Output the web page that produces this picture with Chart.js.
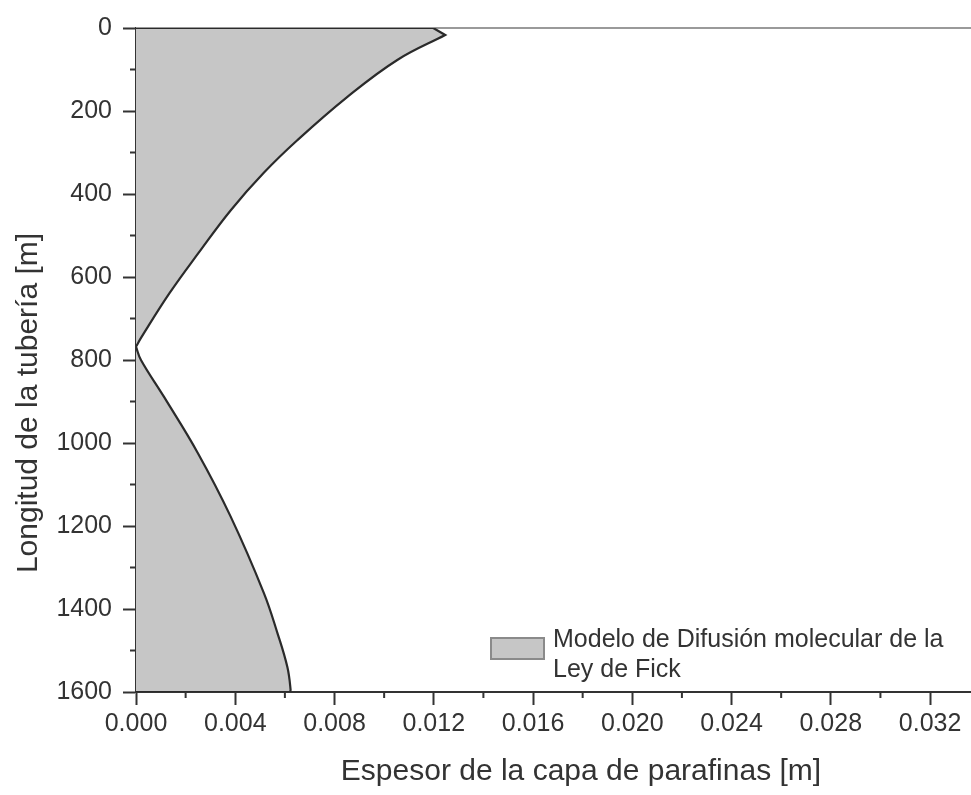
<!DOCTYPE html>
<html>
<head>
<meta charset="utf-8">
<script src="https://cdn.jsdelivr.net/npm/chart.js@4/dist/chart.umd.min.js"></script>
<style>
  body { margin: 0; background: #fff; overflow: hidden; }
  canvas { display: block; }
</style>
</head>
<body>
<canvas id="chart" width="971" height="795"></canvas>
<script>
// profile: thickness [m] vs pipe length [m]
// corner points are listed twice so the spline keeps them sharp
const depthUpper = [0, 0, 0, 17, 17, 77, 166, 270, 349, 439, 542, 639, 745, 768, 768];
const thickUpper = [0, 0.01198, 0.01198, 0.01246, 0.01246, 0.01053, 0.00852, 0.00651, 0.00515, 0.00382, 0.00252, 0.00135, 0.00022, 0, 0];
const depthLower = [800, 889, 1024, 1178, 1361, 1458, 1540, 1595, 1600, 1600, 1600, 1600];
const thickLower = [0.0002, 0.00113, 0.00249, 0.00382, 0.00515, 0.0057, 0.0061, 0.00623, 0.0062, 0.0062, 0, 0];

const xTicks = [0, 0.004, 0.008, 0.012, 0.016, 0.020, 0.024, 0.028, 0.032];
const xMinor = [0.002, 0.006, 0.010, 0.014, 0.018, 0.022, 0.026, 0.030];
const yTicks = [0, 200, 400, 600, 800, 1000, 1200, 1400, 1600];
const yMinor = [100, 300, 500, 700, 900, 1100, 1300, 1500];

const xTitle = "Espesor de la capa de parafinas [m]";
const yTitle = "Longitud de la tubería [m]";
const legendLines = ["Modelo de Difusión molecular de la", "Ley de Fick"];

const ink = "#333333";
const fillGrey = "#c6c6c6";

const depth = depthUpper.concat(depthLower);
const thick = thickUpper.concat(thickLower);
const points = depth.map((d, i) => ({ x: thick[i], y: d }));

const extras = {
  id: "extras",
  beforeDatasetsDraw(chart) {
    const { ctx, chartArea, scales } = chart;
    // thin grey frame line on top
    const yTop = scales.y.getPixelForValue(0);
    ctx.save();
    ctx.strokeStyle = "#9a9a9a";
    ctx.lineWidth = 2;
    ctx.beginPath();
    ctx.moveTo(chartArea.left, yTop);
    ctx.lineTo(chartArea.right, yTop);
    ctx.stroke();
    ctx.restore();
  },
  afterDraw(chart) {
    const { ctx, scales } = chart;
    const x = scales.x;
    const y = scales.y;
    ctx.save();
    ctx.strokeStyle = ink;
    ctx.lineWidth = 2;
    ctx.beginPath();
    xMinor.forEach((v) => {
      const px = x.getPixelForValue(v);
      ctx.moveTo(px, x.top);
      ctx.lineTo(px, x.top + 6);
    });
    yMinor.forEach((v) => {
      const py = y.getPixelForValue(v);
      ctx.moveTo(y.right, py);
      ctx.lineTo(y.right - 6, py);
    });
    ctx.stroke();

    // axis titles
    ctx.fillStyle = ink;
    ctx.font = "30px 'Liberation Sans', Arial, sans-serif";
    ctx.textAlign = "center";
    ctx.textBaseline = "alphabetic";
    ctx.fillText(xTitle, 581, 780);
    ctx.save();
    ctx.translate(37, 403);
    ctx.rotate(-Math.PI / 2);
    ctx.fillText(yTitle, 0, 0);
    ctx.restore();

    // legend
    ctx.fillStyle = fillGrey;
    ctx.fillRect(491, 638, 53, 21);
    ctx.strokeStyle = "#8a8a8a";
    ctx.lineWidth = 2;
    ctx.strokeRect(491, 638, 53, 21);
    ctx.fillStyle = ink;
    ctx.font = "25px 'Liberation Sans', Arial, sans-serif";
    ctx.textAlign = "left";
    ctx.fillText(legendLines[0], 553, 647);
    ctx.fillText(legendLines[1], 553, 677);
    ctx.restore();
  },
};

const tickFont = { family: "'Liberation Sans', Arial, sans-serif", size: 25 };

new Chart(document.getElementById("chart"), {
  type: "line",
  data: {
    datasets: [{
      label: legendLines.join(" "),
      data: points,
      borderColor: "#2a2a2a",
      borderWidth: 2.2,
      backgroundColor: fillGrey,
      fill: "shape",
      pointRadius: 0,
      tension: 0.4,
    }],
  },
  options: {
    responsive: false,
    animation: false,
    devicePixelRatio: 1,
    layout: { padding: { top: 28, right: 0, left: 0, bottom: 0 } },
    plugins: {
      legend: { display: false },
      tooltip: { enabled: false },
    },
    scales: {
      x: {
        type: "linear",
        min: 0,
        max: 0.03365,
        afterBuildTicks: (scale) => { scale.ticks = xTicks.map((v) => ({ value: v })); },
        afterFit: (scale) => { scale.height = 103; },
        ticks: {
          color: ink,
          font: tickFont,
          padding: 4,
          maxRotation: 0,
          autoSkip: false,
          callback: (v) => Number(v).toFixed(3),
        },
        grid: { drawOnChartArea: false, drawTicks: true, tickLength: 13, tickWidth: 2, tickColor: ink },
        border: { color: ink, width: 2 },
      },
      y: {
        type: "linear",
        reverse: true,
        min: 0,
        max: 1600,
        afterBuildTicks: (scale) => { scale.ticks = yTicks.map((v) => ({ value: v })); },
        afterFit: (scale) => { scale.width = 136; },
        ticks: {
          color: ink,
          font: tickFont,
          padding: 11,
          autoSkip: false,
          callback: (v) => String(v),
        },
        grid: { drawOnChartArea: false, drawTicks: true, tickLength: 13, tickWidth: 2, tickColor: ink },
        border: { color: ink, width: 2 },
      },
    },
  },
  plugins: [extras],
});
</script>
</body>
</html>
